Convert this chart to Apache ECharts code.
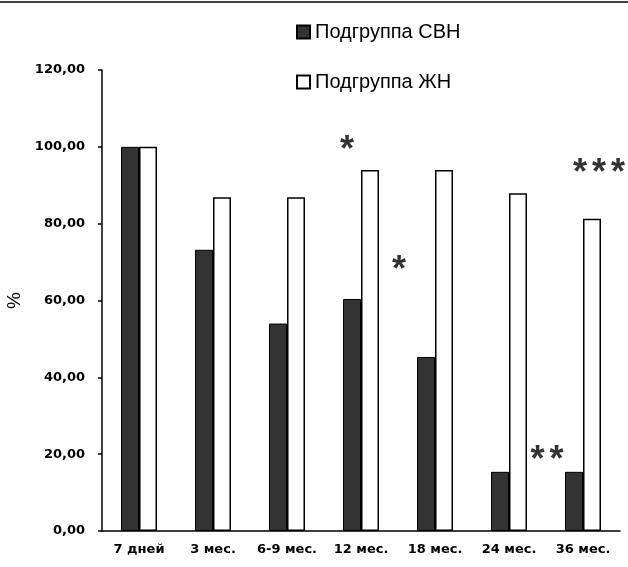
<!DOCTYPE html>
<html><head><meta charset="utf-8">
<script src="https://cdn.jsdelivr.net/npm/echarts@6/dist/echarts.min.js"></script>
<style>html,body{margin:0;padding:0;background:#fff}#c{width:628px;height:567px}</style>
</head><body><div id="c"></div>
<script>
const categories = ['7 дней', '3 мес.', '6-9 мес.', '12 мес.', '18 мес.', '24 мес.', '36 мес.'];
const svnValues = [100, 73.2, 54.0, 60.4, 45.3, 15.4, 15.4];
const zhnValues = [100, 86.9, 86.9, 94.0, 94.0, 87.9, 81.3];
const seriesNames = ['Подгруппа СВН', 'Подгруппа ЖН'];
// significance marks: [category, value, number of stars, x offset px]
const marks = [
  ['12 мес.', 98.8, 1, -14],
  ['18 мес.', 67.6, 1, -36],
  ['36 мес.', 92.9, 3, 16],
  ['36 мес.', 18.1, 2, -36]
];
const F = '"Liberation Sans", Arial, sans-serif';
const D = '"DejaVu Sans", sans-serif';
const chart = echarts.init(document.getElementById('c'));
chart.setOption({
  animation: false,
  textStyle: {fontFamily: F},
  graphic: [{type: 'line', shape: {x1: 0, y1: 2, x2: 628, y2: 2}, style: {stroke: '#000', lineWidth: 1.5}}],
  legend: {
    orient: 'vertical', left: 291, top: 17, itemGap: 30,
    itemWidth: 13, itemHeight: 13, icon: 'rect',
    textStyle: {fontFamily: F, fontSize: 20, color: '#000'},
    data: seriesNames
  },
  grid: {left: 102, right: 8, top: 70, bottom: 36, containLabel: false, outerBoundsMode: 'none'},
  xAxis: {
    type: 'category', data: categories,
    axisLine: {lineStyle: {color: '#000', width: 1.5}},
    axisTick: {length: 4, lineStyle: {color: '#000', width: 1.5}},
    axisLabel: {color: '#000', fontSize: 13, fontFamily: D, fontWeight: 'bold', margin: 12, interval: 0, hideOverlap: false}
  },
  yAxis: {
    type: 'value', min: 0, max: 120, interval: 20,
    name: '%', nameLocation: 'middle', nameGap: 70, nameRotate: 90,
    nameTextStyle: {color: '#000', fontSize: 19, fontFamily: F},
    axisLine: {show: true, lineStyle: {color: '#000', width: 1.5}},
    axisTick: {show: true, length: 4, lineStyle: {color: '#000', width: 1.5}},
    splitLine: {show: false},
    axisLabel: {color: '#000', fontSize: 13, fontFamily: D, fontWeight: 'bold', margin: 17,
      formatter: v => v.toFixed(2).replace('.', ',')}
  },
  series: [
    {name: seriesNames[0], type: 'bar', data: svnValues, barWidth: 18, barGap: '0%',
      itemStyle: {color: '#333', borderColor: '#000', borderWidth: 1}},
    {name: seriesNames[1], type: 'bar', data: zhnValues, barWidth: 18, barGap: '0%',
      itemStyle: {color: '#fff', borderColor: '#000', borderWidth: 1.5}},
    {type: 'scatter', symbolSize: 0, silent: true, legendHoverLink: false,
      data: marks.map(m => ({value: [m[0], m[1]],
        label: {formatter: '{s|*}'.repeat(m[2]), offset: [m[3], 0]}})),
      label: {show: true, position: 'inside',
        rich: {s: {color: '#000', fontSize: 36, fontWeight: 'bold', fontFamily: F, padding: [0, 2.5, 0, 2.5]}}}}
  ]
});
</script></body></html>
